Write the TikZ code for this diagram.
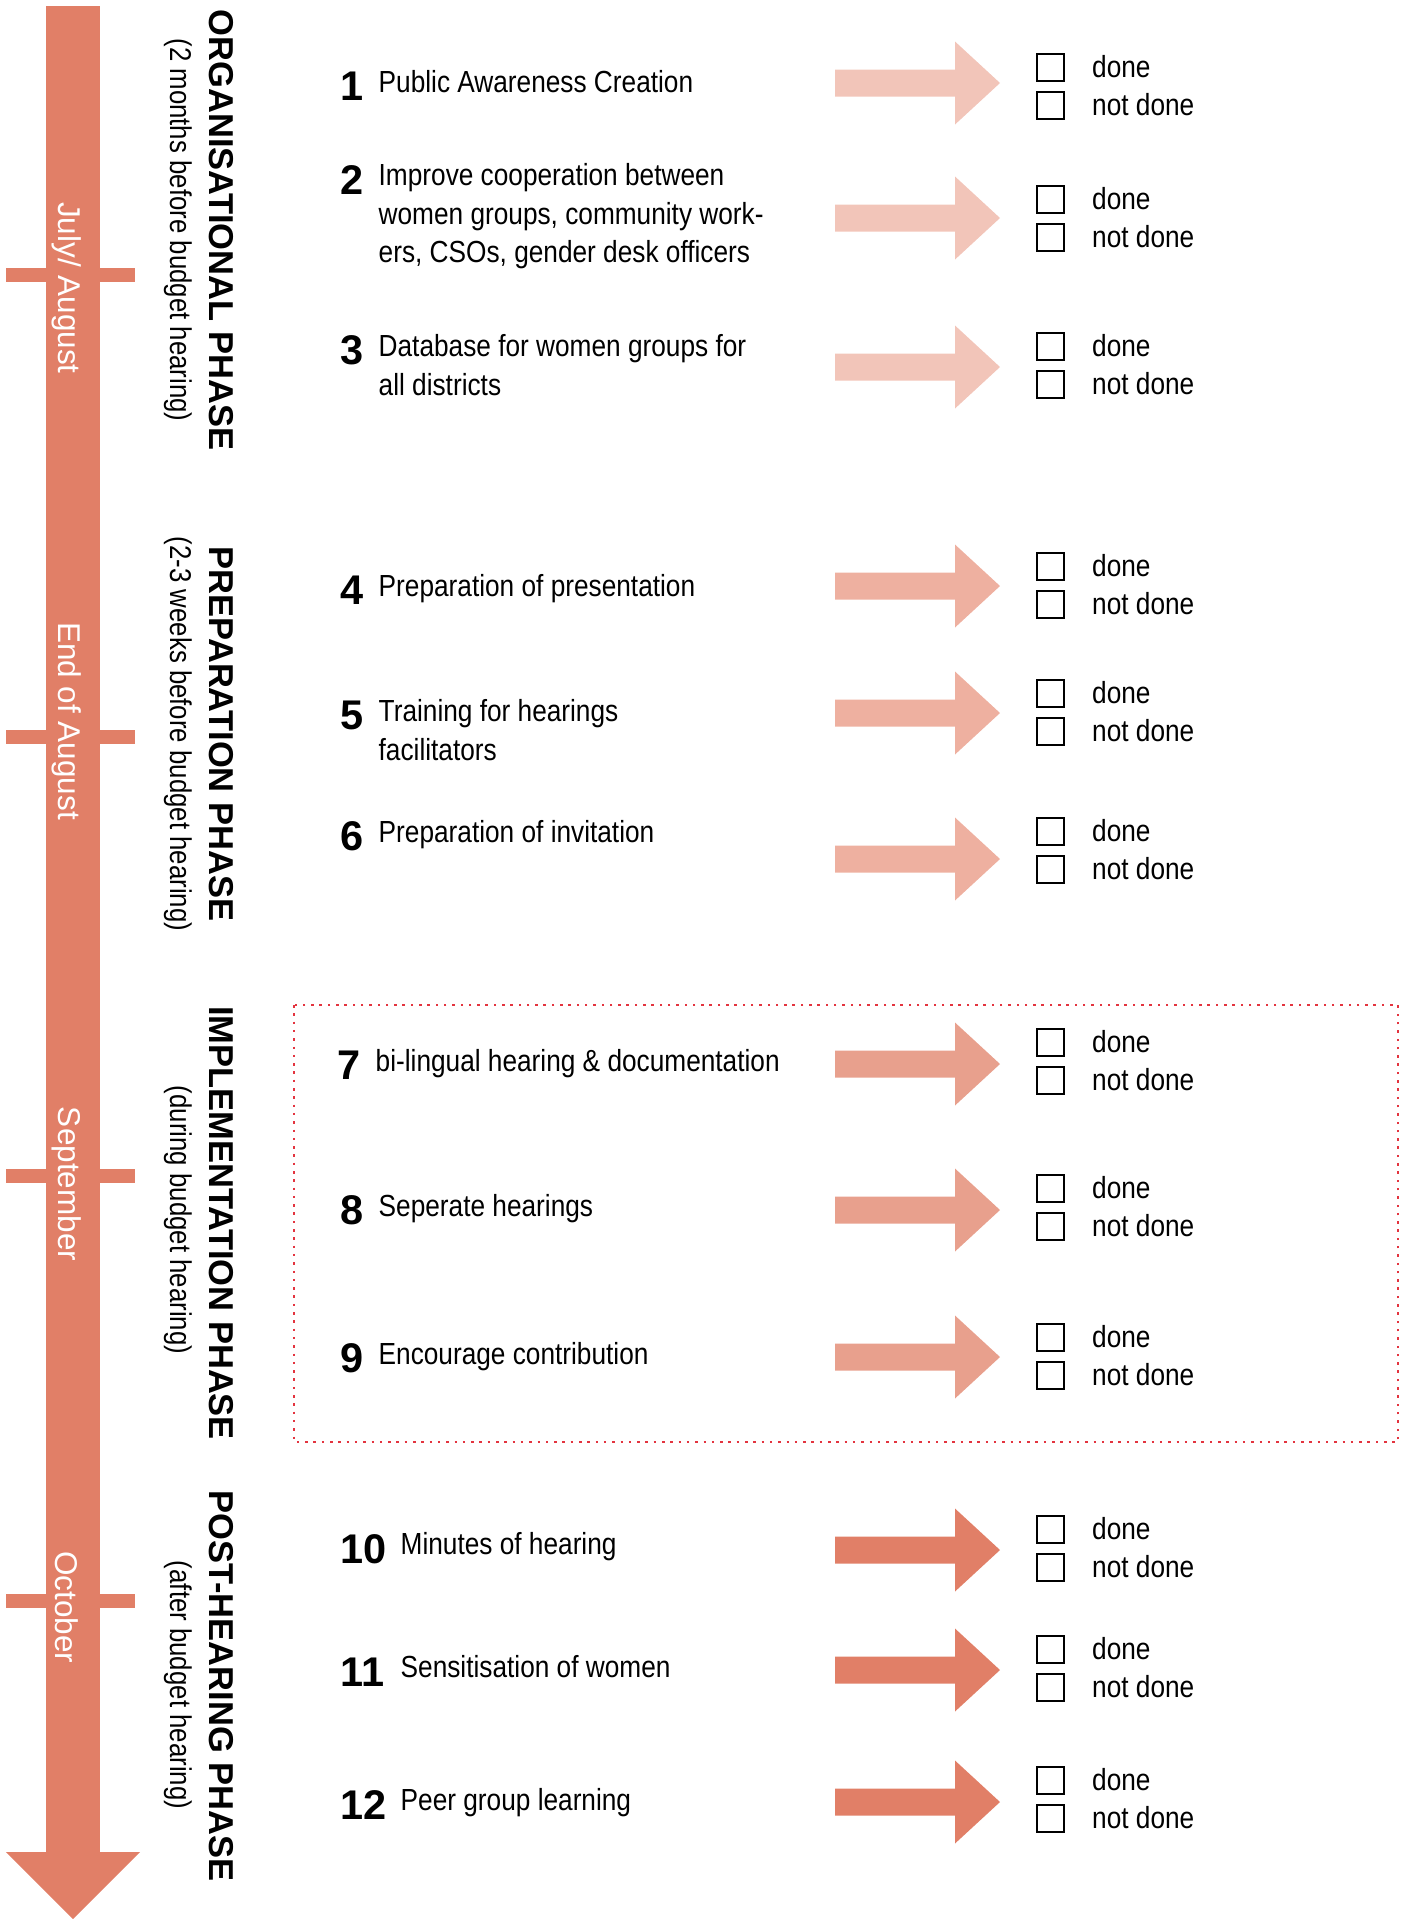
\documentclass[tikz,border=0pt]{standalone}
\usepackage{fontspec}
\setmainfont{Liberation Sans}
\newfontfamily\narrowfont{Liberation Sans}[FakeStretch=0.86]
\usetikzlibrary{positioning}
\definecolor{orgcol}{RGB}{242,197,185}
\definecolor{prepcol}{RGB}{238,176,160}
\definecolor{implcol}{RGB}{232,160,141}
\definecolor{postcol}{RGB}{225,127,103}
\definecolor{dotred}{RGB}{227,52,63}
\tikzstyle{num} = [anchor=base west,inner sep=0,font=\fontsize{11.8}{14}\selectfont\bfseries]
\tikzstyle{task} = [anchor=north west,inner sep=0,align=left,font=\narrowfont\fontsize{8.68}{10.95}\selectfont]
\tikzstyle{phase} = [rotate=-90,inner sep=0,font=\fontsize{9.82}{12}\selectfont\bfseries]
\tikzstyle{phasesub} = [rotate=-90,inner sep=0,font=\narrowfont\fontsize{8.54}{10}\selectfont]
\tikzstyle{month} = [rotate=-90,inner sep=0,text=white,font=\fontsize{8.96}{11}\selectfont]
\tikzstyle{checkbox} = [draw=black,line width=0.02cm,minimum size=0.27cm,inner sep=0,outer sep=0]
\tikzstyle{checklabel} = [inner sep=0,font=\narrowfont\fontsize{8.68}{10.95}\selectfont]
\tikzstyle{dotbox} = [draw=dotred,line width=0.025cm,dash pattern=on 0.025cm off 0.058cm]

\begin{document}
\begin{tikzpicture}
\useasboundingbox (0,0) rectangle (14.08,-19.19);
% timeline
\fill[postcol] (0.46,-0.06) rectangle (1.00,-18.52);
\fill[postcol] (0.06,-18.52) -- (1.40,-18.52) -- (0.73,-19.19) -- cycle;
\foreach \y in {2.75,7.37,11.76,16.01} \fill[postcol] (0.06,-\y+0.07) rectangle (1.35,-\y-0.07);
\node[month] (m1) at (0.67,-2.88) {July/ August};
\node[month] (m2) at (0.67,-7.21) {End of August};
\node[month] (m3) at (0.67,-11.84) {September};
\node[month] (m4) at (0.67,-16.07) {October};

% phases
\node[phase] (p1) at (2.21,-2.30) {ORGANISATIONAL PHASE};
\node[phasesub] (s1) at (1.78,-2.30) {(2 months before budget hearing)};
\node[phase] (p2) at (2.21,-7.34) {PREPARATION PHASE};
\node[phasesub] (s2) at (1.78,-7.34) {(2-3 weeks before budget hearing)};
\node[phase] (p3) at (2.21,-12.23) {IMPLEMENTATION PHASE};
\node[phasesub] (s3) at (1.78,-12.20) {(during budget hearing)};
\node[phase] (p4) at (2.21,-16.86) {POST-HEARING PHASE};
\node[phasesub] (s4) at (1.78,-16.85) {(after budget hearing)};

% steps
\node[num] (n1) at (3.40,-1.00) {1};
\node[task] (t1) at (3.78,-0.70) {Public Awareness Creation};
\node[num] (n2) at (3.40,-1.94) {2};
\node[task] (t2) at (3.78,-1.63) {Improve cooperation between\\women groups, community work-\\ers, CSOs, gender desk officers};
\node[num] (n3) at (3.40,-3.64) {3};
\node[task] (t3) at (3.78,-3.34) {Database for women groups for\\all districts};
\node[num] (n4) at (3.40,-6.04) {4};
\node[task] (t4) at (3.78,-5.74) {Preparation of presentation};
\node[num] (n5) at (3.40,-7.29) {5};
\node[task] (t5) at (3.78,-6.99) {Training for hearings\\facilitators};
\node[num] (n6) at (3.40,-8.50) {6};
\node[task] (t6) at (3.78,-8.20) {Preparation of invitation};
\node[num] (n7) at (3.37,-10.79) {7};
\node[task] (t7) at (3.75,-10.49) {bi-lingual hearing \& documentation};
\node[num] (n8) at (3.40,-12.24) {8};
\node[task] (t8) at (3.78,-11.94) {Seperate hearings};
\node[num] (n9) at (3.40,-13.72) {9};
\node[task] (t9) at (3.78,-13.42) {Encourage contribution};
\node[num] (n10) at (3.40,-15.63) {10};
\node[task] (t10) at (4.00,-15.32) {Minutes of hearing};
\node[num] (n11) at (3.40,-16.86) {11};
\node[task] (t11) at (4.00,-16.55) {Sensitisation of women};
\node[num] (n12) at (3.40,-18.19) {12};
\node[task] (t12) at (4.00,-17.88) {Peer group learning};

% arrows and check boxes
\foreach \i/\ay/\cy/\col in {1/0.83/0.86/orgcol, 2/2.18/2.18/orgcol, 3/3.67/3.65/orgcol,
  4/5.86/5.85/prepcol, 5/7.13/7.12/prepcol, 6/8.59/8.50/prepcol,
  7/10.64/10.61/implcol, 8/12.10/12.07/implcol, 9/13.57/13.56/implcol,
  10/15.50/15.48/postcol, 11/16.70/16.68/postcol, 12/18.02/17.99/postcol}{
  \coordinate (a\i) at (8.35,-\ay);
  \fill[\col] (a\i) ++(0,0.135) -- ++(1.2,0) -- ++(0,0.28) -- ++(0.45,-0.415) -- ++(-0.45,-0.415) -- ++(0,0.28) -- ++(-1.2,0) -- cycle;
  \node[checkbox] (d\i) at (10.5,-\cy+0.19) {};
  \node[checkbox,below=0.11cm of d\i] (u\i) {};
  \node[checklabel,right=0.28cm of d\i] (dl\i) {done};
  \node[checklabel,right=0.28cm of u\i] (ul\i) {not done};
}

\draw[dotbox] (2.94,-10.05) rectangle (13.98,-14.42);
\end{tikzpicture}
\end{document}
